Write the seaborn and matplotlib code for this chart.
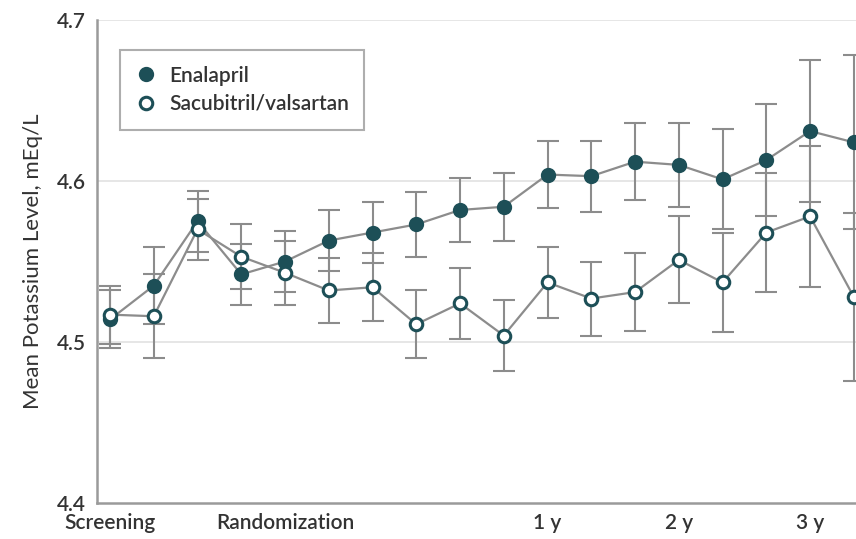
import numpy as np
import pandas as pd
import matplotlib
matplotlib.use("Agg")
import matplotlib.pyplot as plt
import seaborn as sns

# ---- data ----
visit_index = list(range(18))
enalapril_mean = [4.514, 4.535, 4.575, 4.542, 4.550, 4.563, 4.568, 4.573, 4.582,
                  4.584, 4.604, 4.603, 4.612, 4.610, 4.601, 4.613, 4.631, 4.624]
enalapril_err = [0.018, 0.024, 0.019, 0.019, 0.019, 0.019, 0.019, 0.020, 0.020,
                 0.021, 0.021, 0.022, 0.024, 0.026, 0.031, 0.035, 0.044, 0.054]
sacval_mean = [4.517, 4.516, 4.570, 4.553, 4.543, 4.532, 4.534, 4.511, 4.524,
               4.504, 4.537, 4.527, 4.531, 4.551, 4.537, 4.568, 4.578, 4.528]
sacval_err = [0.018, 0.026, 0.019, 0.020, 0.020, 0.020, 0.021, 0.021, 0.022,
              0.022, 0.022, 0.023, 0.024, 0.027, 0.031, 0.037, 0.044, 0.052]
tick_positions = [0, 4, 10, 13, 16]
tick_labels = ["Screening", "Randomization", "1 y", "2 y", "3 y"]
series_names = ["Enalapril", "Sacubitril/valsartan"]

df = pd.DataFrame({
    "visit": visit_index * 2,
    "mean": enalapril_mean + sacval_mean,
    "err": enalapril_err + sacval_err,
    "group": [series_names[0]] * 18 + [series_names[1]] * 18,
})

sns.set_style("white")
plt.rcParams["font.family"] = ["Lato", "DejaVu Sans"]

teal = "#1d4f57"
grey = "#8c8c8c"
txt = "#333333"

fig = plt.figure(figsize=(8.56, 5.39), dpi=100)
ax = fig.add_axes([97 / 856, 36 / 539, 1 - 97 / 856, 483 / 539])

for y in [4.5, 4.6, 4.7]:
    ax.axhline(y, color="#e2e2e2", lw=1.2, zorder=0)

# error bars
for name in series_names:
    sub = df[df["group"] == name]
    ax.errorbar(sub["visit"], sub["mean"], yerr=sub["err"], fmt="none",
                ecolor=grey, elinewidth=1.5, capsize=8, capthick=1.5, zorder=1)

# connecting lines
sns.lineplot(data=df, x="visit", y="mean", hue="group", hue_order=series_names,
             palette=[grey, grey], lw=1.6, legend=False, ax=ax, zorder=2,
             estimator=None, sort=True)

# markers
sub_e = df[df["group"] == series_names[0]]
sub_s = df[df["group"] == series_names[1]]
ax.plot(sub_e["visit"], sub_e["mean"], ls="none", marker="o", ms=9.5,
        mfc=teal, mec=teal, mew=1.5, zorder=3, label=series_names[0])
ax.plot(sub_s["visit"], sub_s["mean"], ls="none", marker="o", ms=9,
        mfc="white", mec=teal, mew=2.2, zorder=3, label=series_names[1])

ax.set_xlim(-0.297, 17.05)
ax.set_ylim(4.4, 4.7)
ax.set_yticks([4.4, 4.5, 4.6, 4.7])
ax.set_yticklabels(["4.4", "4.5", "4.6", "4.7"], fontsize=15, color=txt,
                   fontweight="semibold")
ax.set_xticks(tick_positions)
ax.set_xticklabels(tick_labels, fontsize=15, color=txt, fontweight="semibold")
ax.tick_params(axis="x", length=4, width=1, color="#999999", pad=3, direction="out")
ax.tick_params(axis="y", length=5, width=1, color="#999999", pad=3, direction="out")
ax.set_xlabel("")
ax.set_ylabel("Mean Potassium Level, mEq/L", fontsize=16, color=txt, labelpad=10)

for s in ["top", "right"]:
    ax.spines[s].set_visible(False)
for s in ["left", "bottom"]:
    ax.spines[s].set_color("#9a9a9a")
    ax.spines[s].set_linewidth(1.8)

leg = ax.legend(loc="upper left", bbox_to_anchor=(23 / 759, 1 - 30 / 483),
                fontsize=15, frameon=True, fancybox=False, edgecolor="#9a9a9a",
                handletextpad=0.6, borderpad=0.75, labelspacing=0.4,
                handlelength=1.0, borderaxespad=0)
leg.get_frame().set_linewidth(1.5)
for t in leg.get_texts():
    t.set_color(txt)
    t.set_fontweight("semibold")

fig.savefig("out.png", dpi=100)
